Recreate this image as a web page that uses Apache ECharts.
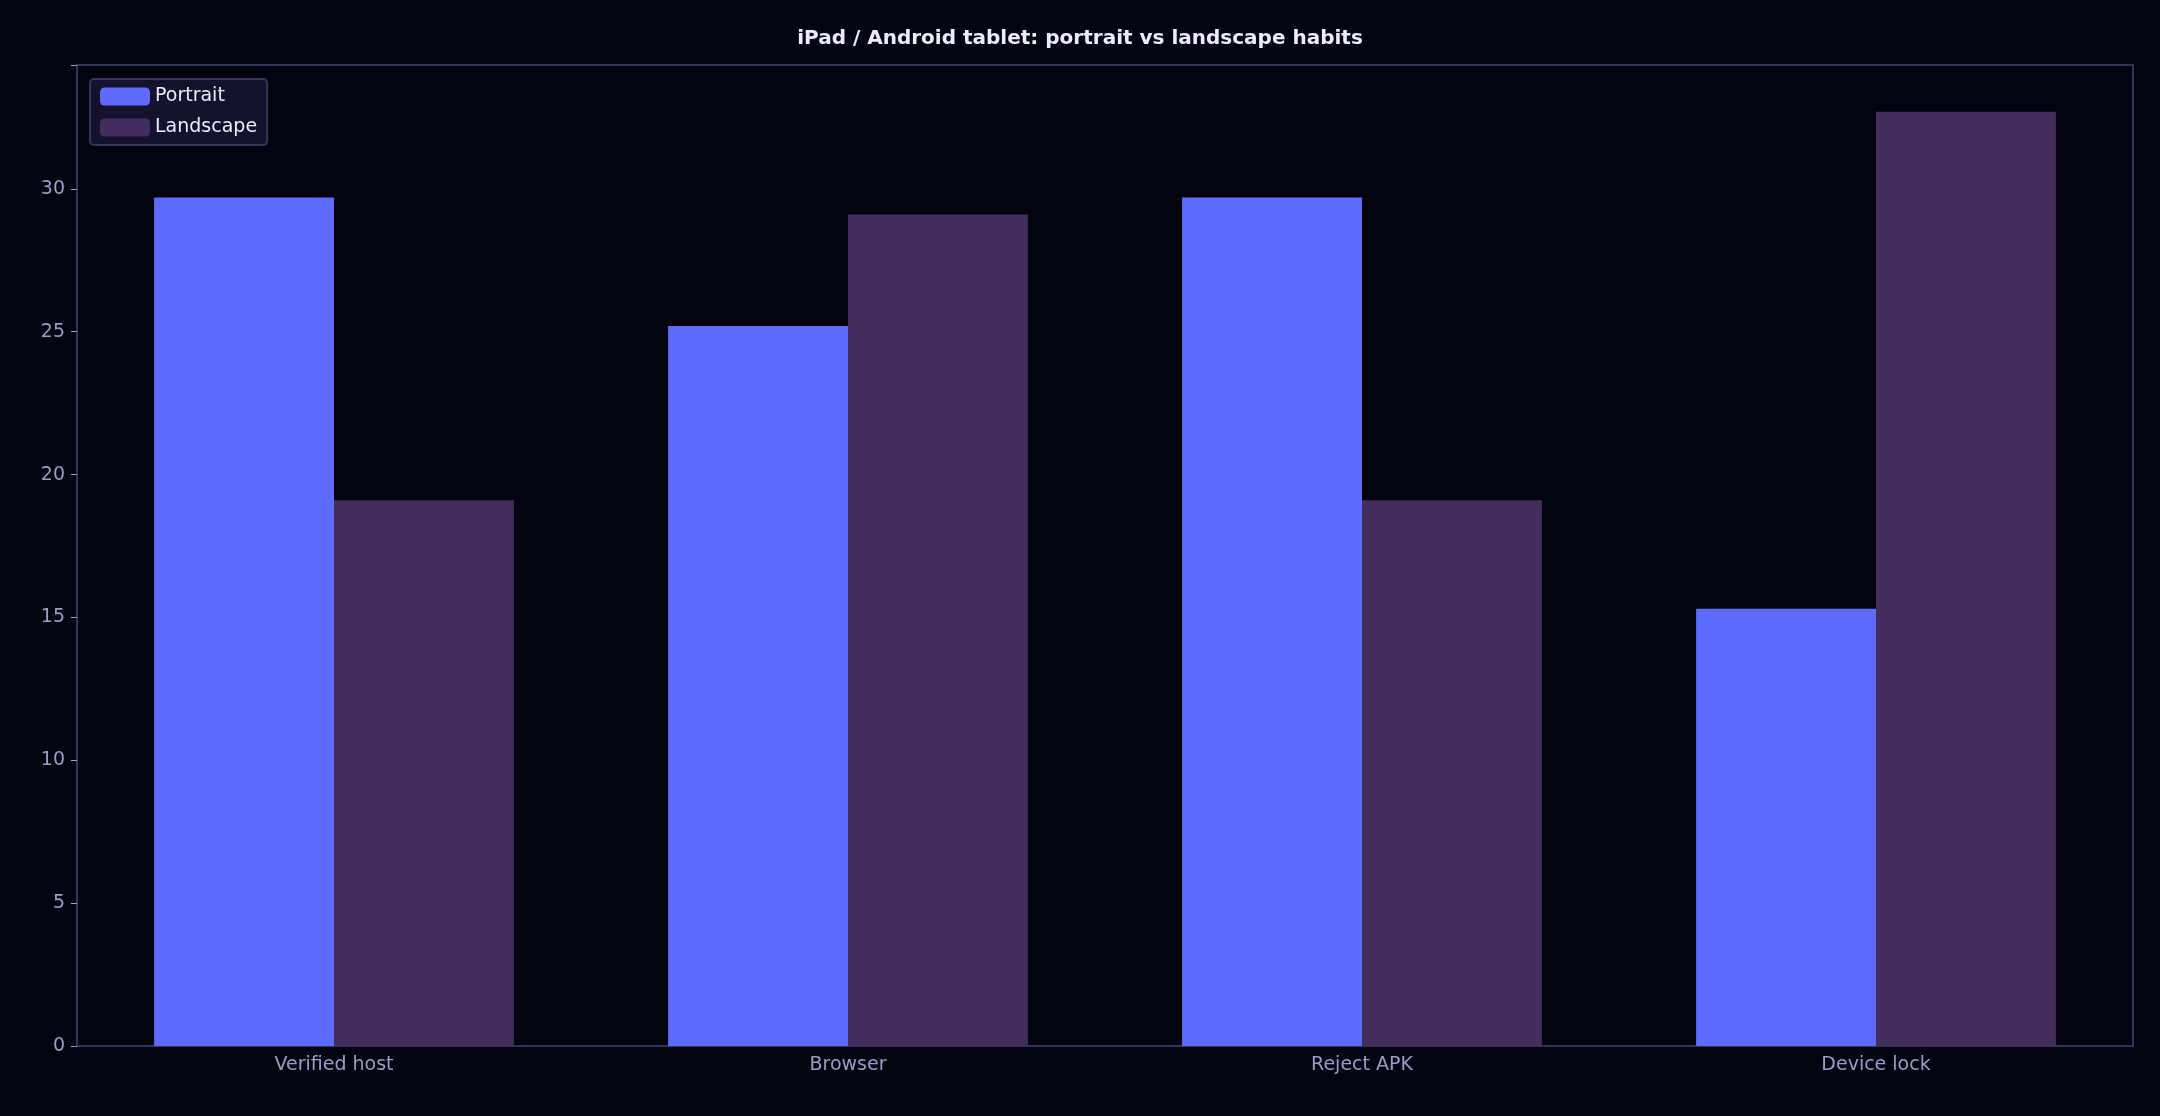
<!DOCTYPE html>
<html><head><meta charset="utf-8">
<script src="https://cdn.jsdelivr.net/npm/echarts@6/dist/echarts.min.js"></script>
<style>html,body{margin:0;padding:0;background:#03040f;}#c{width:2160px;height:1116px;}</style>
</head><body><div id="c"></div>
<script>
const categories = ['Verified host', 'Browser', 'Reject APK', 'Device lock'];
const portrait = [29.7, 25.2, 29.7, 15.3];
const landscape = [19.1, 29.1, 19.1, 32.7];
const seriesNames = ['Portrait', 'Landscape'];

const chart = echarts.init(document.getElementById('c'));
const txt = '#9a9cc8';
const axisCol = '#34325e';
chart.setOption({
  backgroundColor: '#03040f',
  animation: false,
  title: {text: 'iPad / Android tablet: portrait vs landscape habits', left: 'center', top: 24,
    textStyle: {color: '#ecebff', fontSize: 20, fontWeight: 'bold', fontFamily: 'DejaVu Sans'}},
  legend: {
    data: seriesNames, orient: 'vertical', left: 90, top: 79,
    backgroundColor: '#15122d', borderColor: '#3a3258', borderWidth: 2, borderRadius: 4,
    padding: [8, 10, 8, 10], itemGap: 12, itemWidth: 50, itemHeight: 18,
    textStyle: {color: '#ecebff', fontSize: 19, fontFamily: 'DejaVu Sans'}
  },
  grid: {left: 77, right: 27, top: 65, bottom: 70, show: true, borderColor: axisCol, borderWidth: 2},
  xAxis: {type: 'category', data: categories,
    axisLine: {lineStyle: {color: axisCol, width: 2}},
    axisTick: {alignWithLabel: true, length: 6, lineStyle: {color: '#9a9cc8'}},
    axisLabel: {color: txt, fontSize: 19, fontFamily: 'DejaVu Sans', margin: 10}},
  yAxis: {type: 'value', min: 0, max: 34.335, interval: 5,
    axisLine: {show: true, lineStyle: {color: axisCol, width: 2}},
    axisTick: {show: true, length: 6, lineStyle: {color: '#9a9cc8'}},
    splitLine: {show: false},
    axisLabel: {color: txt, fontSize: 19, fontFamily: 'DejaVu Sans', margin: 12,
      formatter: v => (v % 5 === 0 ? v : '')}},
  series: [
    {name: seriesNames[0], type: 'bar', data: portrait, barGap: '0%', barCategoryGap: '30%',
      itemStyle: {color: '#5d6bff'}},
    {name: seriesNames[1], type: 'bar', data: landscape, barGap: '0%', barCategoryGap: '30%',
      itemStyle: {color: '#432d5c'}}
  ]
});
</script></body></html>
